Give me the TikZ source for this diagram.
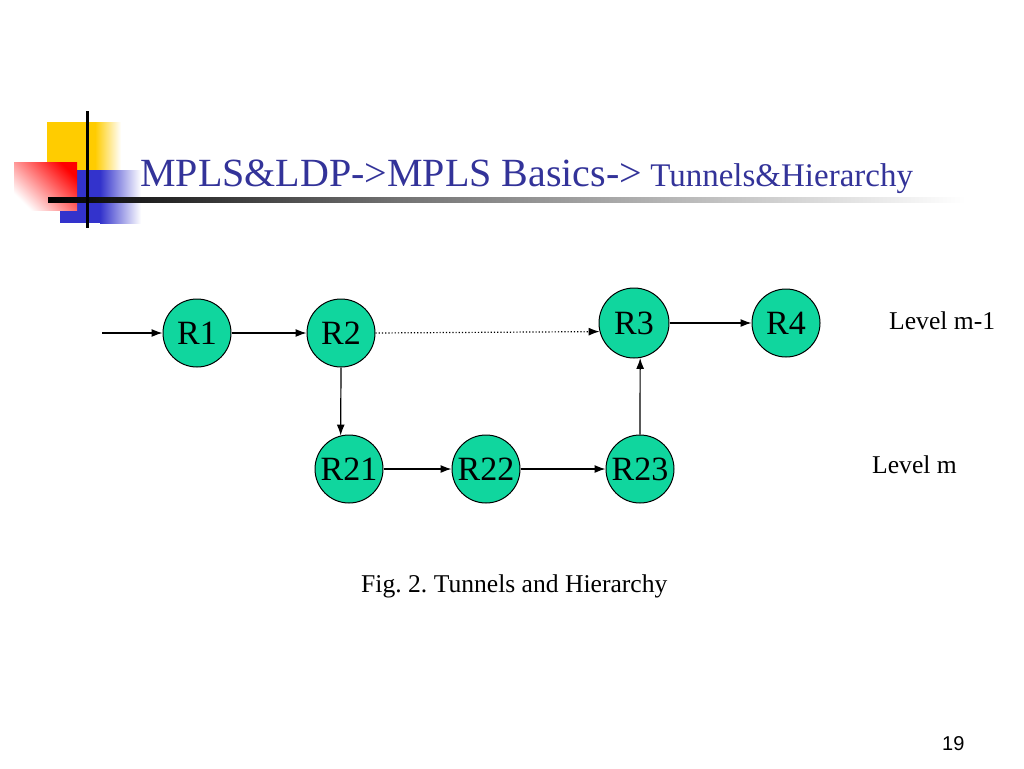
\documentclass[tikz,border=0pt]{standalone}
\usepackage{fontspec}
\setmainfont{Liberation Serif}
\newfontfamily\pagenumfont{Liberation Sans}
\usetikzlibrary{arrows.meta,shadings}
\definecolor{titleblue}{RGB}{51,51,153}
\definecolor{nodegreen}{RGB}{16,214,158}
\definecolor{logoyellow}{RGB}{255,204,0}
\definecolor{logoblue}{RGB}{51,51,204}
\tikzset{
  router/.style={circle, draw=black, line width=1pt, fill=nodegreen, minimum size=68pt, inner sep=0pt, font=\fontsize{34}{40}\selectfont},
  link/.style={line width=1.2pt, -{Latex[length=11pt,width=8pt]}},
  dotlink/.style={link, dotted},
  plain/.style={anchor=base west, inner sep=0pt, font=\fontsize{25.6}{30}\selectfont}
}
\frenchspacing
\begin{document}
\begin{tikzpicture}[x=1pt,y=-1pt]
\useasboundingbox (0,0) rectangle (1024,768);
% logo
\fill[logoyellow] (47,122) rectangle (95,190);
\shade[left color=logoyellow, right color=white] (95,122) rectangle (121,190);
\fill[logoblue] (60,170) rectangle (100,223);
\shade[left color=logoblue, right color=white] (100,170) rectangle (141,223);
\shade[left color=white, right color=red, shading angle=135] (14,162) rectangle (77,210);
\shade[left color=black, right color=black!55] (48,197.5) rectangle (400,202.5);
\shade[left color=black!55, right color=white] (400,197.5) rectangle (965,202.5);
\draw[line width=3pt, black] (87,111) -- (87,228);
% title
\node[anchor=base west, inner sep=0pt, text=titleblue] (title) at (140,186)
  {{\fontsize{40}{48}\selectfont MPLS\&LDP->MPLS Basics->}{\fontsize{33}{40}\selectfont\ Tunnels\&Hierarchy}};
% routers
\node[router] (R1) at (197,333) {R1};
\node[router] (R2) at (341,333) {R2};
\node[router, minimum size=70pt] (R3) at (634,323) {R3};
\node[router] (R4) at (786,323) {R4};
\node[router] (R21) at (349,469) {R21};
\node[router] (R22) at (486,469) {R22};
\node[router] (R23) at (640,469) {R23};
\coordinate (in) at (102,333);
% connectors
\draw[link] (in) -- (R1.west);
\draw[link] (R1.east) -- (R2.west);
\draw[dotlink] (R2.east) -- (R3.194);
\draw[link] (R3.east) -- (R4.west);
\draw[link] (R2.south) -- (R21.104);
\draw[link] (R21.east) -- (R22.west);
\draw[link] (R22.east) -- (R23.west);
\draw[link] (R23.north) -- (R3.280);
% labels
\node[plain] (lvl1) at (889,329) {Level m-1};
\node[plain] (lvl2) at (872,473) {Level m};
\node[plain] (cap) at (361,592) {Fig. 2. Tunnels and Hierarchy};
\node[anchor=base west, inner sep=0pt, font=\pagenumfont\fontsize{20}{24}\selectfont] (pg) at (942,750) {19};
\end{tikzpicture}
\end{document}
